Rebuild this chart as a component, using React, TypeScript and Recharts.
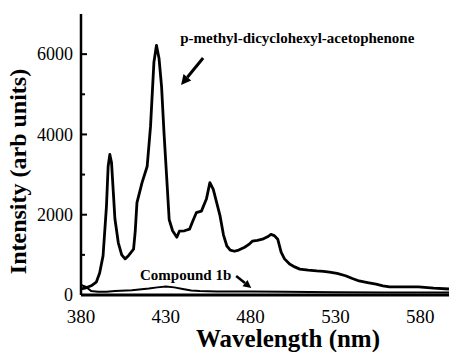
import React from "react";
import { LineChart, Line, XAxis, YAxis, ReferenceDot, ReferenceLine, Label } from "recharts";

const mainWl = [380, 383, 386, 389, 391, 393, 395, 396, 397, 398, 399, 400, 402, 404, 406, 408, 411, 412, 413, 416, 419, 421, 423, 424.5, 426, 427.5, 429, 430.5, 432, 434, 436.5, 438, 441, 444, 446, 448, 451, 454, 456, 458, 460, 462, 464, 466, 468, 470.5, 473, 476.5, 479, 481, 484, 487, 490, 492, 494, 496, 498, 500, 503, 506, 509, 514, 519, 523, 526.5, 531, 536, 540, 544, 549, 554, 558, 562, 570, 579, 588, 597];
const mainI = [150, 180, 230, 320, 550, 975, 2200, 3200, 3500, 3300, 2600, 1900, 1300, 1000, 900, 980, 1140, 1600, 2300, 2800, 3200, 4200, 5800, 6220, 5900, 5200, 4000, 2950, 1880, 1600, 1440, 1590, 1600, 1640, 1850, 2050, 2090, 2400, 2800, 2630, 2300, 1970, 1500, 1220, 1120, 1090, 1120, 1190, 1260, 1340, 1360, 1390, 1450, 1510, 1480, 1390, 1070, 900, 770, 700, 645, 620, 600, 590, 570, 540, 480, 410, 350, 310, 270, 230, 200, 200, 200, 170, 150];

const cmpWl = [380, 383, 386, 390, 395, 400, 410, 420, 425, 430, 435, 440, 445, 450, 460, 480, 500, 530, 560, 597];
const cmpI = [250, 200, 100, 80, 80, 100, 120, 160, 190, 210, 190, 150, 110, 100, 90, 90, 80, 70, 60, 60];

const xTicks = [380, 430, 480, 530, 580];
const yTicks = [0, 1000, 2000, 3000, 4000, 5000, 6000, 7000];
const yLabelled = [0, 2000, 4000, 6000];

const mainData = mainWl.map((wl, i) => ({ wl, v: mainI[i] }));
const cmpData = cmpWl.map((wl, i) => ({ wl, v: cmpI[i] }));

const FONT = "'Liberation Serif', 'Times New Roman', serif";

const YTick = (props: any) => {
  const { x, y, payload } = props;
  const v = payload.value;
  const major = v % 2000 === 0;
  const labelled = yLabelled.includes(v);
  return (
    <g>
      {v > 0 && v < 7000 && (
        <line x1={x} y1={y} x2={x + (major ? 6 : 4)} y2={y} stroke="#000" strokeWidth={2} />
      )}
      {labelled && (
        <text x={x - 8} y={y} dy="0.35em" textAnchor="end" fontFamily={FONT} fontSize={18} fill="#000">
          {v}
        </text>
      )}
    </g>
  );
};

const XTick = (props: any) => {
  const { x, y, payload } = props;
  return (
    <text x={x} y={y} textAnchor="middle" fontFamily={FONT} fontSize={19} fill="#000">
      {payload.value}
    </text>
  );
};

const arrowShape = (w: number, head: number) => (p: any) => {
  const { x1, y1, x2, y2 } = p;
  if (x1 == null) return <g />;
  const ang = Math.atan2(y2 - y1, x2 - x1);
  const bx = x2 - head * Math.cos(ang);
  const by = y2 - head * Math.sin(ang);
  const hw = head * 0.5;
  const px = -Math.sin(ang) * hw;
  const py = Math.cos(ang) * hw;
  return (
    <g>
      <line x1={x1} y1={y1} x2={bx} y2={by} stroke="#000" strokeWidth={w} />
      <polygon points={`${x2},${y2} ${bx + px},${by + py} ${bx - px},${by - py}`} fill="#000" />
    </g>
  );
};

const textShape = (txt: string, size: number) => (p: any) => (
  <text x={p.cx} y={p.cy} dy="0.35em" textAnchor="start" fontFamily={FONT} fontWeight="bold" fontSize={size} fill="#000">
    {txt}
  </text>
);

const YLabel = (props: any) => {
  const vb = props.viewBox;
  const cx = vb.x + 26;
  const cy = vb.y + vb.height / 2 + 17;
  return (
    <text x={cx} y={cy} transform={`rotate(-90 ${cx} ${cy})`} textAnchor="middle" fontFamily={FONT} fontWeight="bold" fontSize={24} fill="#000">
      Intensity (arb units)
    </text>
  );
};

const XLabel = (props: any) => {
  const vb = props.viewBox;
  const cx = vb.x + vb.width / 2 + 23;
  const cy = vb.y + 52;
  return (
    <text x={cx} y={cy} textAnchor="middle" fontFamily={FONT} fontWeight="bold" fontSize={25} fill="#000">
      Wavelength (nm)
    </text>
  );
};

export default function App() {
  return (
    <div style={{ position: "absolute", left: 0, top: 0, width: 451, height: 352, background: "#fff" }}>
      <LineChart width={451} height={352} margin={{ top: 14, right: 2, bottom: 0, left: 0 }}>
        <XAxis
          type="number"
          dataKey="wl"
          domain={[380, 597]}
          ticks={xTicks}
          allowDataOverflow
          tick={<XTick />}
          tickLine={false}
          tickSize={0}
          tickMargin={28}
          height={57}
          axisLine={{ stroke: "#000", strokeWidth: 3 }}
        >
          <Label content={<XLabel />} />
        </XAxis>
        <YAxis
          type="number"
          domain={[0, 7000]}
          ticks={yTicks}
          allowDataOverflow
          tick={<YTick />}
          tickLine={false}
          tickSize={0}
          tickMargin={0}
          width={81}
          axisLine={{ stroke: "#000", strokeWidth: 2.5 }}
          interval={0}
        >
          <Label content={<YLabel />} />
        </YAxis>
        <Line data={cmpData} dataKey="v" type="linear" stroke="#000" strokeWidth={2} dot={false} isAnimationActive={false} />
        <Line data={mainData} dataKey="v" type="linear" stroke="#000" strokeWidth={2.8} dot={false} isAnimationActive={false} strokeLinejoin="round" />
        <ReferenceDot x={438.5} y={6400} r={0} shape={textShape("p-methyl-dicyclohexyl-acetophenone", 15)} />
        <ReferenceDot x={414.8} y={500} r={0} shape={textShape("Compound 1b", 15)} />
        <ReferenceLine segment={[{ x: 452, y: 5904 }, { x: 439, y: 5231 }]} shape={arrowShape(3, 10)} />
        <ReferenceLine segment={[{ x: 471.5, y: 473 }, { x: 480.4, y: 174 }]} shape={arrowShape(2.5, 8)} />
      </LineChart>
    </div>
  );
}
